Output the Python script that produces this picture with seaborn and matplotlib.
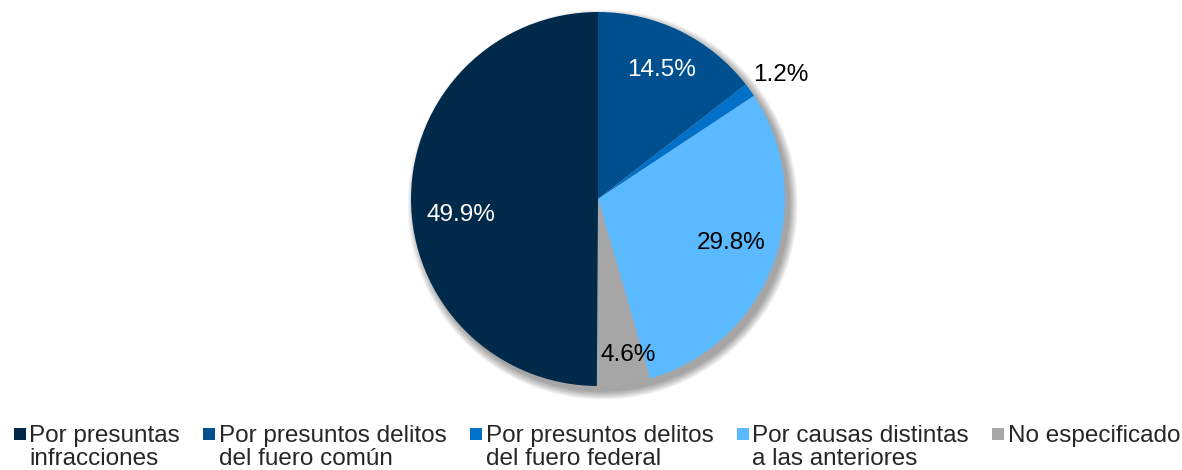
import numpy as np
import matplotlib
matplotlib.use("Agg")
import matplotlib.pyplot as plt
import seaborn as sns
from matplotlib.lines import Line2D
from matplotlib.patches import Circle

# ---- data (clockwise from 12 o'clock) ----
pie_labels = ["Por presuntos delitos\ndel fuero común",
              "Por presuntos delitos\ndel fuero federal",
              "Por causas distintas\na las anteriores",
              "No especificado",
              "Por presuntas\ninfracciones"]
pie_values = [14.5, 1.2, 29.8, 4.6, 49.9]
pie_colors = ["#00508F", "#0070C8", "#5BB9FF", "#A6A6A6", "#00294A"]
label_colors = ["white", "black", "black", "black", "white"]
label_radius = [0.77, 1.18, 0.75, 0.85, 0.74]
label_angle_shift = [0, -1.5, 2, 3, 7]

legend_order = ["Por presuntas\ninfracciones",
                "Por presuntos delitos\ndel fuero común",
                "Por presuntos delitos\ndel fuero federal",
                "Por causas distintas\na las anteriores",
                "No especificado"]

sns.set_theme(style="white")
plt.rcParams["font.family"] = ["Liberation Sans", "DejaVu Sans"]
FS = 17.5

fig = plt.figure(figsize=(11.82, 4.70), dpi=100)
cx, cy, r = 598, 199, 187
W, H = 1182, 470
ax = fig.add_axes([(cx - r) / W, (H - cy - r) / H, 2 * r / W, 2 * r / H])

# soft shadow
for i in range(8):
    ax.add_patch(Circle((0.025, -0.03), 1.0 + 0.006 * i, color="black",
                        alpha=0.05, lw=0, zorder=0, clip_on=False))

wedges, _ = ax.pie(pie_values, colors=pie_colors, startangle=90,
                   counterclock=False, radius=1.0,
                   wedgeprops=dict(linewidth=0))
for w in wedges:
    w.set_zorder(2)
    w.set_clip_on(False)

for w, v, col, rr, sh in zip(wedges, pie_values, label_colors,
                             label_radius, label_angle_shift):
    mid = np.deg2rad((w.theta1 + w.theta2) / 2 + sh)
    ax.text(rr * np.cos(mid), rr * np.sin(mid), f"{v:.1f}%", color=col,
            fontsize=FS, ha="center", va="center", zorder=5)

ax.set_xlim(-1, 1)
ax.set_ylim(-1, 1)
ax.set_aspect("equal")
ax.axis("off")

handles = []
for lab in legend_order:
    i = pie_labels.index(lab)
    handles.append(Line2D([], [], marker="s", linestyle="none", markersize=9,
                          markerfacecolor=pie_colors[i], markeredgewidth=0))

leg = fig.legend(handles, legend_order, ncol=5,
                 loc="upper left", bbox_to_anchor=(13.5 / W, (H - 425) / H),
                 bbox_transform=fig.transFigure, frameon=False,
                 fontsize=FS, handlelength=0.52, handletextpad=0.13,
                 columnspacing=0.95, borderaxespad=0, borderpad=0)
for t in leg.get_texts():
    t.set_linespacing(1.05)
# align markers with the first text line
for col in leg._legend_handle_box.get_children():
    for item in col.get_children():
        item.align = "top"
    col.align = "top"
leg._legend_handle_box.align = "top"

fig.savefig("out.png", dpi=100, facecolor="white")
